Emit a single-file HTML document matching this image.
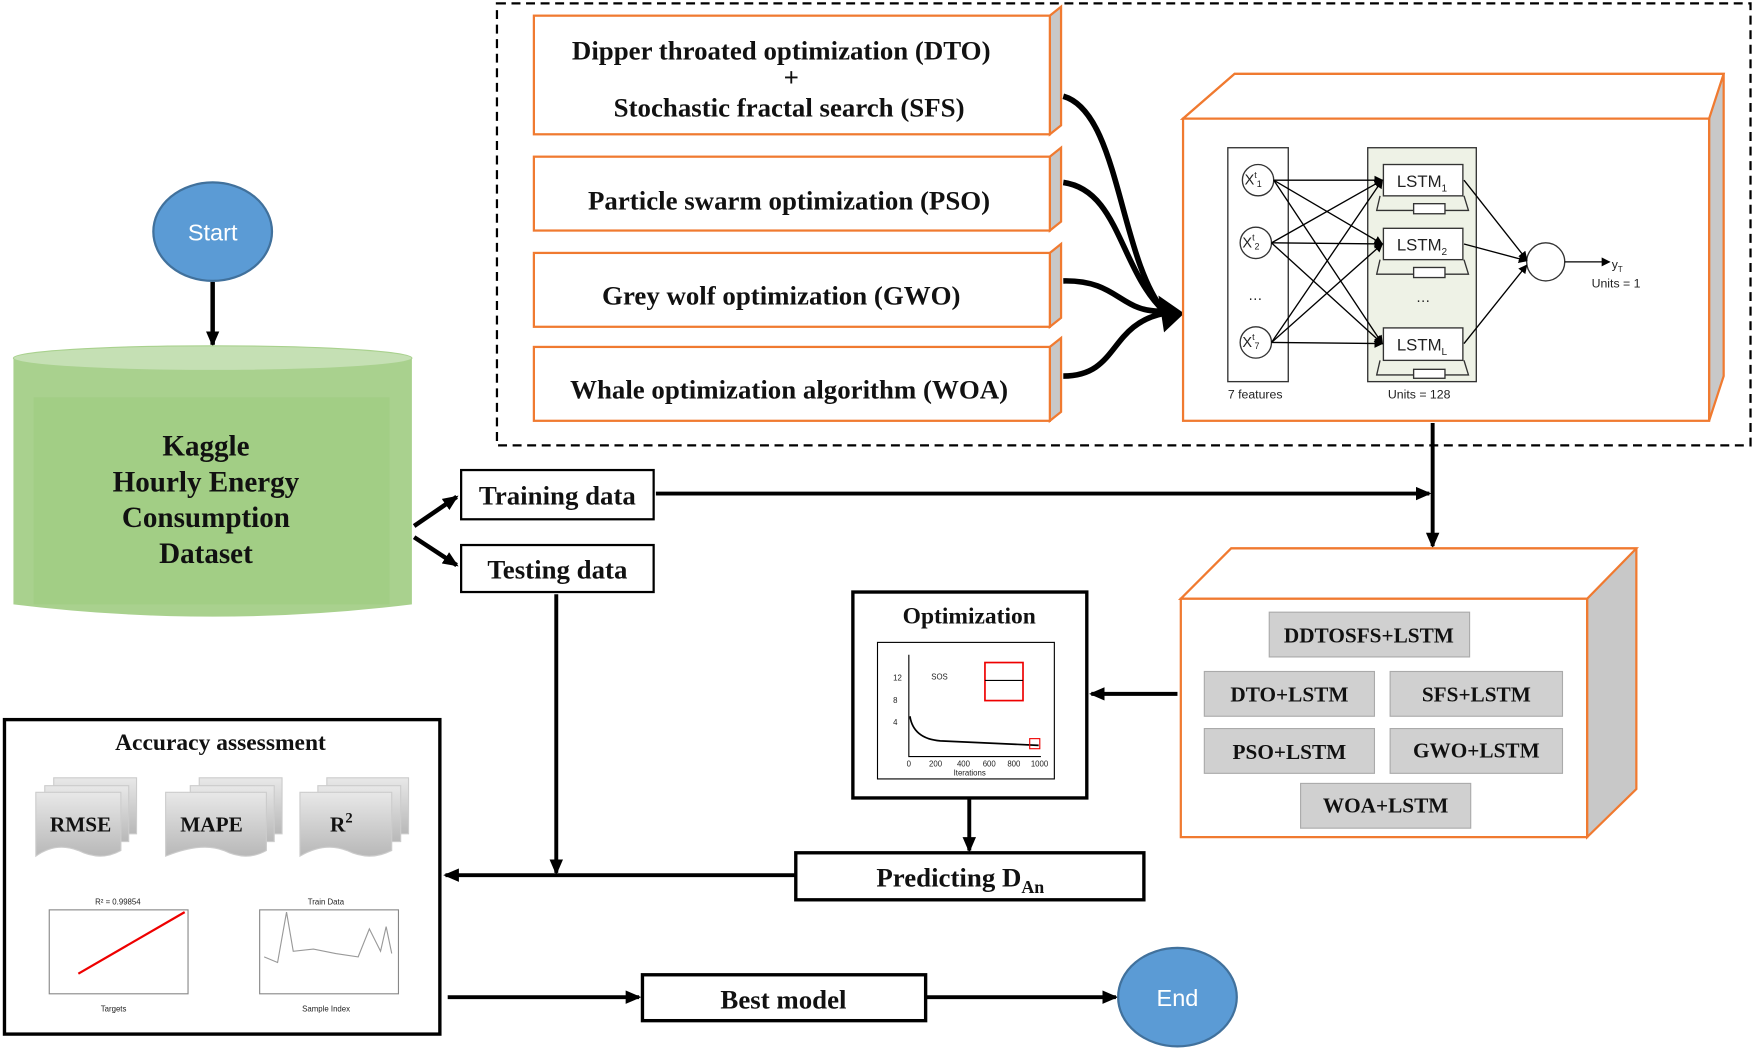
<!DOCTYPE html>
<html><head><meta charset="utf-8"><style>
html,body{margin:0;padding:0;background:#fff}
svg{display:block}
.t{font-family:"Liberation Serif",serif;font-weight:bold;fill:#111}
.s{font-family:"Liberation Sans",sans-serif;fill:#222}
</style></head><body>
<svg width="1755" height="1052" viewBox="0 0 1568 940" preserveAspectRatio="none" xmlns="http://www.w3.org/2000/svg">
<defs>
<marker id="a" markerWidth="8" markerHeight="8" refX="7" refY="4" orient="auto" markerUnits="userSpaceOnUse"><path d="M0,0 L8,4 L0,8 z" fill="#000"/></marker>
<marker id="b" markerWidth="14" markerHeight="12" refX="12" refY="6" orient="auto" markerUnits="userSpaceOnUse"><path d="M0,0 L14,6 L0,12 z" fill="#000"/></marker>
<linearGradient id="g" x1="0" x2="0" y1="0" y2="1"><stop offset="0" stop-color="#e8e8e8"/><stop offset="1" stop-color="#b8b8b8"/></linearGradient>
</defs>
<rect x="444" y="3" width="1120" height="395" fill="none" stroke="#000" stroke-width="2" stroke-dasharray="8,5"/>
<g stroke="#f07a30" stroke-width="2">
<path d="M938,14 L948,6 L948,112 L938,120 Z" fill="#c8c8c8"/>
<rect x="477" y="14" width="461" height="106" fill="#fff"/>
<path d="M938,140 L948,132 L948,198 L938,206 Z" fill="#c8c8c8"/>
<rect x="477" y="140" width="461" height="66" fill="#fff"/>
<path d="M938,226 L948,218 L948,284 L938,292 Z" fill="#c8c8c8"/>
<rect x="477" y="226" width="461" height="66" fill="#fff"/>
<path d="M938,310 L948,302 L948,368 L938,376 Z" fill="#c8c8c8"/>
<rect x="477" y="310" width="461" height="66" fill="#fff"/>
</g>
<text class="t" x="698" y="53" font-size="24" text-anchor="middle">Dipper throated optimization (DTO)</text>
<text class="t" x="707" y="77" font-size="24" text-anchor="middle">+</text>
<text class="t" x="705" y="104" font-size="24" text-anchor="middle">Stochastic fractal search (SFS)</text>
<text class="t" x="705" y="187" font-size="24" text-anchor="middle">Particle swarm optimization (PSO)</text>
<text class="t" x="698" y="272" font-size="24" text-anchor="middle">Grey wolf optimization (GWO)</text>
<text class="t" x="705" y="356" font-size="24" text-anchor="middle">Whale optimization algorithm (WOA)</text>
<g fill="none" stroke="#000" stroke-width="5">
<path d="M950,86 C1000,100 1000,230 1040,278"/>
<path d="M950,163 C1000,170 1000,240 1040,278"/>
<path d="M950,251 C1000,250 1000,280 1040,278"/>
<path d="M950,336 C1000,336 990,290 1040,280"/>
</g>
<path d="M1035,264 L1058,280 L1040,297 Z" fill="#000"/>
<g stroke="#f07a30" stroke-width="2">
<path d="M1057,106 L1103,66 L1540,66 L1540,336 L1527,376 L1527,106 Z" fill="#c8c8c8"/>
<path d="M1057,106 L1103,66 L1540,66 L1527,106 Z" fill="#fff"/>
<rect x="1057" y="106" width="470" height="270" fill="#fff"/>
</g>
<rect x="1097" y="132" width="54" height="209" fill="#fff" stroke="#333" stroke-width="1.2"/>
<rect x="1222" y="132" width="97" height="209" fill="#eef2e6" stroke="#333" stroke-width="1.2"/>
<g fill="none" stroke="#333" stroke-width="1.2">
<path d="M1233,175 L1230,188 L1312,188 L1308,175"/><path d="M1233,232 L1230,245 L1312,245 L1308,232"/><path d="M1233,322 L1230,335 L1312,335 L1308,322"/>
</g>
<g fill="#fff" stroke="#333" stroke-width="1.2">
<circle cx="1124" cy="161" r="14"/><circle cx="1122" cy="217" r="14"/><circle cx="1122" cy="306" r="14"/>
<rect x="1236" y="147" width="71" height="28"/><rect x="1236" y="204" width="71" height="28"/><rect x="1236" y="293" width="71" height="29"/>
<rect x="1263" y="182" width="28" height="9"/><rect x="1263" y="239" width="28" height="9"/><rect x="1263" y="330" width="28" height="8"/>
<circle cx="1381" cy="234" r="17"/>
</g>
<g class="s" font-size="13"><text x="1112" y="165">X<tspan font-size="8" dy="-6">t</tspan><tspan font-size="8" dy="8">1</tspan></text>
<text x="1110" y="221">X<tspan font-size="8" dy="-6">t</tspan><tspan font-size="8" dy="8">2</tspan></text>
<text x="1110" y="310">X<tspan font-size="8" dy="-6">t</tspan><tspan font-size="8" dy="8">7</tspan></text>
<text x="1115" y="268">…</text><text x="1265" y="270">…</text>
<text x="1248" y="167" font-size="15">LSTM<tspan font-size="9" dy="4">1</tspan></text>
<text x="1248" y="224" font-size="15">LSTM<tspan font-size="9" dy="4">2</tspan></text>
<text x="1248" y="313" font-size="15">LSTM<tspan font-size="9" dy="4">L</tspan></text>
<text x="1097" y="356" font-size="11">7 features</text><text x="1240" y="356" font-size="11">Units = 128</text>
<text x="1440" y="240" font-size="11">y<tspan font-size="7" dy="3">T</tspan></text><text x="1422" y="257" font-size="11">Units = 1</text></g>
<g stroke="#000" stroke-width="1.2" marker-end="url(#a)">
<line x1="1138" y1="161" x2="1235" y2="161"/><line x1="1138" y1="161" x2="1235" y2="218"/><line x1="1138" y1="161" x2="1235" y2="307"/>
<line x1="1136" y1="217" x2="1235" y2="161"/><line x1="1136" y1="217" x2="1235" y2="218"/><line x1="1136" y1="217" x2="1235" y2="307"/>
<line x1="1136" y1="306" x2="1235" y2="161"/><line x1="1136" y1="306" x2="1235" y2="218"/><line x1="1136" y1="306" x2="1235" y2="307"/>
<line x1="1308" y1="161" x2="1364" y2="232"/><line x1="1308" y1="218" x2="1364" y2="233"/><line x1="1308" y1="307" x2="1364" y2="237"/>
<line x1="1398" y1="234" x2="1438" y2="234"/>
</g>
<ellipse cx="190" cy="207" rx="53" ry="44" fill="#5b9bd5" stroke="#41719c" stroke-width="2"/>
<text x="190" y="215" font-family="Liberation Sans,sans-serif" font-size="21" fill="#fff" text-anchor="middle">Start</text>
<line x1="190" y1="252" x2="190" y2="308" stroke="#000" stroke-width="4" marker-end="url(#b)"/>
<path d="M12,320 L12,540 Q190,562 368,540 L368,320 Z" fill="#a9d18e"/>
<rect x="30" y="355" width="318" height="185" fill="#9ccc7c" opacity="0.5"/>
<ellipse cx="190" cy="320" rx="178" ry="11" fill="#c5e0b4" stroke="#a9d18e"/>
<g class="t" font-size="26" text-anchor="middle"><text x="184" y="407">Kaggle</text><text x="184" y="439">Hourly Energy</text><text x="184" y="471">Consumption</text><text x="184" y="503">Dataset</text></g>
<g stroke="#000" stroke-width="4" fill="none"><line x1="370" y1="470" x2="408" y2="444" marker-end="url(#b)"/><line x1="370" y1="480" x2="408" y2="505" marker-end="url(#b)"/></g>
<rect x="412" y="420" width="172" height="44" fill="#fff" stroke="#000" stroke-width="2"/>
<rect x="412" y="487" width="172" height="42" fill="#fff" stroke="#000" stroke-width="2"/>
<text class="t" x="498" y="451" font-size="24" text-anchor="middle">Training data</text>
<text class="t" x="498" y="517" font-size="24" text-anchor="middle">Testing data</text>
<g stroke="#000" stroke-width="3.5" fill="none">
<line x1="586" y1="441" x2="1277" y2="441" marker-end="url(#b)"/>
<line x1="1280" y1="378" x2="1280" y2="488" marker-end="url(#b)"/>
<line x1="497" y1="531" x2="497" y2="780" marker-end="url(#b)"/>
<line x1="710" y1="782" x2="398" y2="782" marker-end="url(#b)"/>
<line x1="1052" y1="620" x2="975" y2="620" marker-end="url(#b)"/>
<line x1="866" y1="714" x2="866" y2="760" marker-end="url(#b)"/>
<line x1="400" y1="891" x2="571" y2="891" marker-end="url(#b)"/>
<line x1="828" y1="891" x2="997" y2="891" marker-end="url(#b)"/>
</g>
<g stroke="#f07a30" stroke-width="2">
<path d="M1055,535 L1100,490 L1462,490 L1462,705 L1418,748 L1418,535 Z" fill="#c8c8c8"/>
<path d="M1055,535 L1100,490 L1462,490 L1418,535 Z" fill="#fff"/>
<rect x="1055" y="535" width="363" height="213" fill="#fff"/>
</g>
<g fill="#d0d0d0" stroke="#aaa"><rect x="1134" y="547" width="179" height="40"/><rect x="1076" y="600" width="152" height="40"/><rect x="1242" y="600" width="154" height="40"/><rect x="1076" y="651" width="152" height="40"/><rect x="1242" y="651" width="154" height="40"/><rect x="1162" y="700" width="152" height="40"/></g>
<g class="t" font-size="19" text-anchor="middle"><text x="1223" y="574">DDTOSFS+LSTM</text><text x="1152" y="627">DTO+LSTM</text><text x="1319" y="627">SFS+LSTM</text><text x="1152" y="678">PSO+LSTM</text><text x="1319" y="677">GWO+LSTM</text><text x="1238" y="726">WOA+LSTM</text></g>
<rect x="762" y="529" width="209" height="184" fill="#fff" stroke="#000" stroke-width="3"/>
<text class="t" x="866" y="557" font-size="21" text-anchor="middle">Optimization</text>
<rect x="784" y="574" width="158" height="122" fill="#fff" stroke="#000"/>
<path d="M812,585 L812,676 L930,676" fill="none" stroke="#000"/>
<path d="M813,640 Q816,660 840,662 L928,666" fill="none" stroke="#000" stroke-width="1.5"/>
<rect x="880" y="592" width="34" height="34" fill="none" stroke="#e00" stroke-width="1.5"/><line x1="880" y1="608" x2="914" y2="608" stroke="#000"/>
<rect x="920" y="660" width="9" height="9" fill="none" stroke="#e00"/>
<g class="s" font-size="7"><text x="832" y="607">SOS</text><text x="798" y="608">12</text><text x="798" y="628">8</text><text x="798" y="648">4</text><text x="810" y="685">0</text><text x="830" y="685">200</text><text x="855" y="685">400</text><text x="878" y="685">600</text><text x="900" y="685">800</text><text x="921" y="685">1000</text><text x="852" y="693">Iterations</text></g>
<rect x="711" y="762" width="311" height="42" fill="#fff" stroke="#000" stroke-width="3"/>
<text class="t" x="858" y="792" font-size="24" text-anchor="middle">Predicting D<tspan font-size="16" dy="6">An</tspan></text>
<rect x="4" y="643" width="389" height="281" fill="#fff" stroke="#000" stroke-width="3"/>
<text class="t" x="197" y="670" font-size="21" text-anchor="middle">Accuracy assessment</text>
<g fill="url(#g)" stroke="#ccc">
<path d="M48,695 H122 V745 H48Z"/><path d="M40,702 H115 V752 H40Z"/><path d="M32,708 H108 V760 Q90,770 70,760 Q50,752 32,765Z"/>
<path d="M178,695 H252 V745 H178Z"/><path d="M170,702 H245 V752 H170Z"/><path d="M148,708 H238 V760 Q220,770 200,760 Q180,752 148,765Z"/>
<path d="M292,695 H365 V745 H292Z"/><path d="M284,702 H358 V752 H284Z"/><path d="M268,708 H350 V760 Q330,770 310,760 Q290,752 268,765Z"/>
</g>
<g class="t" font-size="19" text-anchor="middle"><text x="72" y="743">RMSE</text><text x="189" y="743">MAPE</text><text x="305" y="743">R<tspan font-size="13" dy="-8">2</tspan></text></g>
<rect x="44" y="813" width="124" height="75" fill="#fff" stroke="#888"/>
<line x1="70" y1="870" x2="165" y2="815" stroke="#e00" stroke-width="2"/>
<rect x="232" y="813" width="124" height="75" fill="#fff" stroke="#888"/>
<path d="M236,855 L248,860 L256,815 L262,850 L280,848 L300,852 L320,855 L330,830 L340,850 L345,828 L350,852" fill="none" stroke="#999"/>
<g class="s" font-size="7"><text x="85" y="808">R² = 0.99854</text><text x="275" y="808">Train Data</text><text x="90" y="904">Targets</text><text x="270" y="904">Sample Index</text></g>
<rect x="574" y="871" width="253" height="41" fill="#fff" stroke="#000" stroke-width="3"/>
<text class="t" x="700" y="901" font-size="24" text-anchor="middle">Best model</text>
<ellipse cx="1052" cy="891" rx="53" ry="44" fill="#5b9bd5" stroke="#41719c" stroke-width="2"/>
<text x="1052" y="899" font-family="Liberation Sans,sans-serif" font-size="21" fill="#fff" text-anchor="middle">End</text>
</svg>
</body></html>
